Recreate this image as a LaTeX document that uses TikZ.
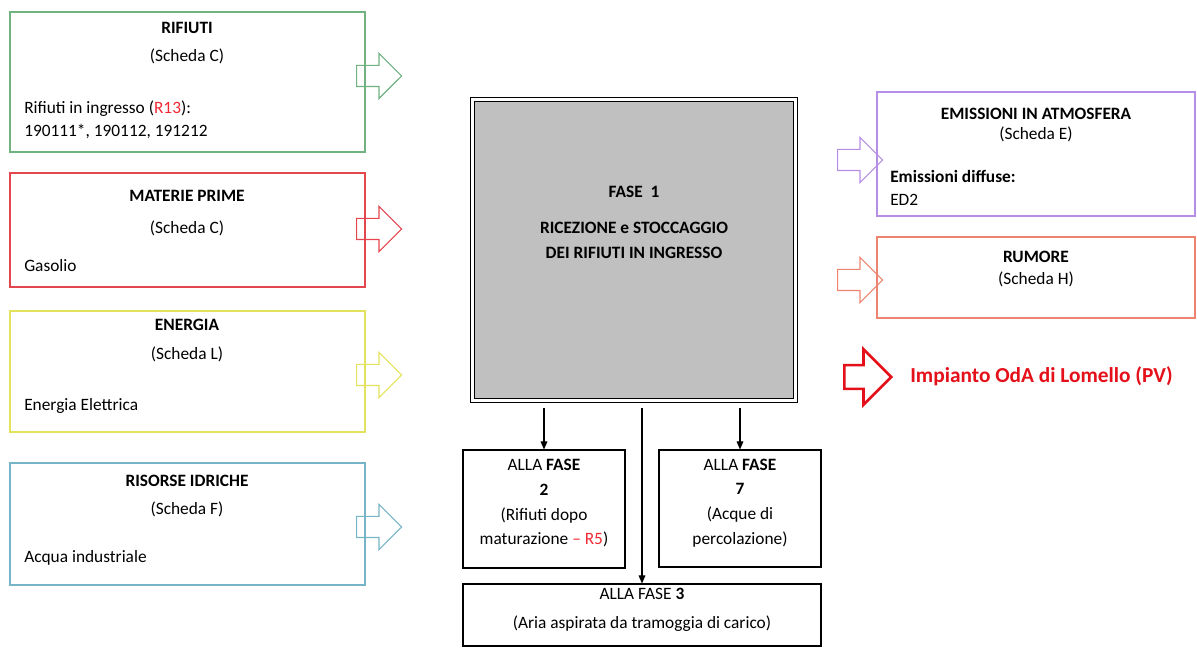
\documentclass[tikz,border=0pt]{standalone}
\usepackage{fontspec}
\setmainfont{Carlito}
\usetikzlibrary{positioning,arrows.meta,fit,shapes.arrows}

\definecolor{rifgreen}{RGB}{112,178,128}
\definecolor{matred}{RGB}{228,70,78}
\definecolor{enyellow}{RGB}{226,226,92}
\definecolor{idrblue}{RGB}{118,180,200}
\definecolor{emipurple}{RGB}{182,142,230}
\definecolor{rumsalmon}{RGB}{238,132,112}
\definecolor{oda}{RGB}{228,16,26}
\definecolor{codered}{RGB}{240,40,50}
\definecolor{fasegray}{RGB}{192,192,192}

\tikzset{
  every node/.style={font=\fontsize{13}{17.25}\selectfont},
  inbox/.style={draw=#1, line width=1.1pt, inner sep=0pt},
  fatarrow/.style={single arrow, draw=#1, line width=0.9pt, inner xsep=0pt,
    inner ysep=7.5pt, single arrow head extend=9pt, minimum height=33.75pt, anchor=tail},
  phasebox/.style={draw, line width=0.8pt, inner sep=0pt, align=center,
    font=\fontsize{13}{18.5}\selectfont},
  flow/.style={-{Triangle[length=6pt,width=5pt]}, line width=0.8pt},
  head/.style={font=\bfseries\fontsize{13}{17.25}\selectfont},
  body/.style={anchor=west, align=left, inner xsep=0pt}
}

\begin{document}
\begin{tikzpicture}[x=0.75pt,y=-0.75pt]
\useasboundingbox (0,0) rectangle (1197,648);

% input boxes
\node[inbox=rifgreen, fit={(10,12) (365,152)}] (rifiuti) {};
\node[head] (rifT) at (187,28) {RIFIUTI};
\node (rifS) at (187,56) {(Scheda C)};
\node[body] (rifB) at (24,119.5) {Rifiuti in ingresso (\textcolor{codered}{R13}):\\190111*, 190112, 191212};

\node[inbox=matred, fit={(10,173) (365,287)}] (materie) {};
\node[head] (matT) at (187,196) {MATERIE PRIME};
\node (matS) at (187,228) {(Scheda C)};
\node[body] (matB) at (24,266) {Gasolio};

\node[inbox=enyellow, fit={(10,311) (365,432)}] (energia) {};
\node[head] (enT) at (187,325) {ENERGIA};
\node (enS) at (187,354) {(Scheda L)};
\node[body] (enB) at (24,406) {Energia Elettrica};

\node[inbox=idrblue, fit={(10,463) (365,585)}] (risorse) {};
\node[head] (idrT) at (187,481) {RISORSE IDRICHE};
\node (idrS) at (187,509) {(Scheda F)};
\node[body] (idrB) at (24,558) {Acqua industriale};

\node[fatarrow=rifgreen] (arrRif) at (356,76) {};
\node[fatarrow=matred] (arrMat) at (356,229) {};
\node[fatarrow=enyellow] (arrEn) at (356,375) {};
\node[fatarrow=idrblue] (arrIdr) at (356,527) {};

% phase 1
\node[draw, double=white, double distance=2pt, line width=0.8pt, fill=fasegray,
  inner sep=0pt, fit={(472.5,99.5) (795.5,400.5)}] (fase1) {};
\node[head] (f1T) at (634,192) {FASE~~1};
\node[align=center, font=\bfseries\fontsize{13}{18.75}\selectfont] (f1D) at (634,240.5)
  {RICEZIONE e STOCCAGGIO\\DEI RIFIUTI IN INGRESSO};

% next phases
\node[phasebox, fit={(463,450) (625,568)}] (fasetwo)
  {ALLA \textbf{FASE}\\\textbf{2}\\(Rifiuti dopo\\maturazione \textcolor{codered}{-- R5})};
\node[phasebox, fit={(659,450) (821,567)}] (faseseven)
  {ALLA \textbf{FASE}\\\textbf{7}\\(Acque di\\percolazione)};
\node[phasebox, fit={(463,584) (821,646)}, font=\fontsize{13}{21.75}\selectfont] (fasethree)
  {ALLA FASE \textbf{3}\\(Aria aspirata da tramoggia di carico)};

\draw[flow] ([yshift=-5pt]fase1.south -| fasetwo.north) -- (fasetwo.north);
\draw[flow] ([yshift=-5pt]fase1.south -| faseseven.north) -- (faseseven.north);
\draw[flow] ([yshift=-5pt]fase1.south -| fasethree.north) -- (fasethree.north);

% outputs
\node[inbox=emipurple, fit={(877,92) (1195,216)}] (emissioni) {};
\node[head] (emiT) at (1036,114) {EMISSIONI IN ATMOSFERA};
\node (emiS) at (1036,134) {(Scheda E)};
\node[body] (emiB) at (890,188) {\textbf{Emissioni diffuse:}\\ED2};

\node[inbox=rumsalmon, fit={(877,237) (1195,318)}] (rumore) {};
\node[head] (rumT) at (1036,257) {RUMORE};
\node (rumS) at (1036,279) {(Scheda H)};

\node[fatarrow=emipurple] (arrEmi) at (837,160) {};
\node[fatarrow=rumsalmon] (arrRum) at (837,280) {};

% legend
\node[fatarrow=oda, line width=2pt, inner ysep=7.9pt, single arrow head extend=12pt,
  minimum height=35.25pt] (arrOda) at (843,377) {};
\node[anchor=west, inner xsep=0pt, text=oda, font=\bfseries\fontsize{16}{18}\selectfont] (odaT) at (910,376)
  {Impianto OdA di Lomello (PV)};
\end{tikzpicture}
\end{document}
